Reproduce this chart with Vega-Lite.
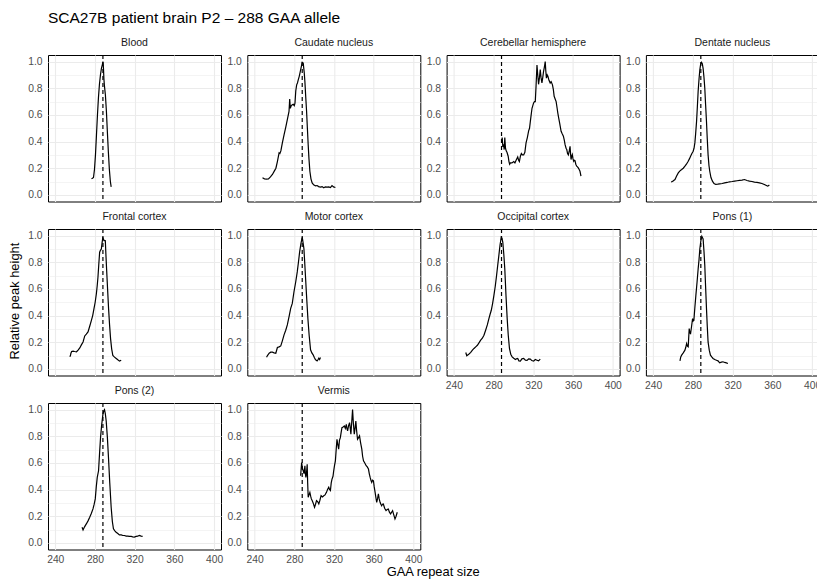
{
  "$schema": "https://vega.github.io/schema/vega-lite/v6.json",
  "padding": {"left": 9, "top": 10, "right": 0, "bottom": 0},
  "config": {
    "font": "Liberation Sans",
    "view": {"stroke": "black", "strokeWidth": 1},
    "axis": {"domain": false, "ticks": false, "labelFont": "Liberation Sans", "labelFontSize": 10.3, "labelColor": "#4D4D4D", "gridColor": "#EBEBEB", "title": null, "labelOverlap": false, "labelFlush": false},
    "axisX": {"labelPadding": 4.5},
    "axisY": {"labelPadding": 6},
    "title": {"font": "Liberation Sans", "fontWeight": "normal", "fontSize": 10.5, "color": "#1A1A1A", "offset": 6, "baseline": "alphabetic", "anchor": "middle"},
    "line": {"color": "black", "strokeWidth": 1.2},
    "rule": {"color": "black", "strokeWidth": 1.2, "strokeDash": [4, 3]}
  },
  "title": {"text": "SCA27B patient brain P2 – 288 GAA allele", "anchor": "start", "fontSize": 15.5, "color": "black", "frame": "group", "offset": 11},
  "datasets": {
    "peaks": [
      {"tissue":"Blood","size":276.5,"height":0.12},{"tissue":"Blood","size":277.5,"height":0.125},{"tissue":"Blood","size":278.5,"height":0.13},{"tissue":"Blood","size":279.5,"height":0.19},{"tissue":"Blood","size":280.5,"height":0.3},{"tissue":"Blood","size":281.5,"height":0.45},{"tissue":"Blood","size":282.5,"height":0.6},{"tissue":"Blood","size":283.5,"height":0.73},{"tissue":"Blood","size":284.5,"height":0.83},{"tissue":"Blood","size":285.5,"height":0.9},{"tissue":"Blood","size":286.5,"height":0.95},{"tissue":"Blood","size":287.5,"height":0.98},{"tissue":"Blood","size":288,"height":1.0},{"tissue":"Blood","size":288.5,"height":0.96},{"tissue":"Blood","size":289,"height":0.87},{"tissue":"Blood","size":289.5,"height":0.82},{"tissue":"Blood","size":290.5,"height":0.75},{"tissue":"Blood","size":291.5,"height":0.63},{"tissue":"Blood","size":292.5,"height":0.47},{"tissue":"Blood","size":293.5,"height":0.32},{"tissue":"Blood","size":294.5,"height":0.19},{"tissue":"Blood","size":295.5,"height":0.1},{"tissue":"Blood","size":296.3,"height":0.06},

      {"tissue":"Caudate nucleus","size":248,"height":0.128},{"tissue":"Caudate nucleus","size":250,"height":0.12},{"tissue":"Caudate nucleus","size":252,"height":0.118},{"tissue":"Caudate nucleus","size":254,"height":0.12},{"tissue":"Caudate nucleus","size":256,"height":0.135},{"tissue":"Caudate nucleus","size":258,"height":0.153},{"tissue":"Caudate nucleus","size":260,"height":0.18},{"tissue":"Caudate nucleus","size":261.5,"height":0.2},{"tissue":"Caudate nucleus","size":263,"height":0.25},{"tissue":"Caudate nucleus","size":264.7,"height":0.315},{"tissue":"Caudate nucleus","size":265.5,"height":0.31},{"tissue":"Caudate nucleus","size":266.5,"height":0.33},{"tissue":"Caudate nucleus","size":268,"height":0.39},{"tissue":"Caudate nucleus","size":269.7,"height":0.45},{"tissue":"Caudate nucleus","size":271.5,"height":0.51},{"tissue":"Caudate nucleus","size":273,"height":0.564},{"tissue":"Caudate nucleus","size":274.7,"height":0.626},{"tissue":"Caudate nucleus","size":275.4,"height":0.72},{"tissue":"Caudate nucleus","size":276,"height":0.65},{"tissue":"Caudate nucleus","size":277,"height":0.67},{"tissue":"Caudate nucleus","size":278,"height":0.676},{"tissue":"Caudate nucleus","size":279,"height":0.68},{"tissue":"Caudate nucleus","size":280,"height":0.67},{"tissue":"Caudate nucleus","size":280.7,"height":0.688},{"tissue":"Caudate nucleus","size":281.5,"height":0.78},{"tissue":"Caudate nucleus","size":282.4,"height":0.826},{"tissue":"Caudate nucleus","size":283.2,"height":0.84},{"tissue":"Caudate nucleus","size":284,"height":0.863},{"tissue":"Caudate nucleus","size":285,"height":0.89},{"tissue":"Caudate nucleus","size":286.4,"height":0.938},{"tissue":"Caudate nucleus","size":287.3,"height":0.97},{"tissue":"Caudate nucleus","size":288,"height":0.995},{"tissue":"Caudate nucleus","size":289,"height":0.99},{"tissue":"Caudate nucleus","size":290,"height":0.92},{"tissue":"Caudate nucleus","size":290.7,"height":0.85},{"tissue":"Caudate nucleus","size":291.5,"height":0.74},{"tissue":"Caudate nucleus","size":292.4,"height":0.626},{"tissue":"Caudate nucleus","size":293.2,"height":0.5},{"tissue":"Caudate nucleus","size":294,"height":0.377},{"tissue":"Caudate nucleus","size":294.8,"height":0.27},{"tissue":"Caudate nucleus","size":295.7,"height":0.177},{"tissue":"Caudate nucleus","size":296.8,"height":0.12},{"tissue":"Caudate nucleus","size":298,"height":0.09},{"tissue":"Caudate nucleus","size":299.5,"height":0.075},{"tissue":"Caudate nucleus","size":301.4,"height":0.068},{"tissue":"Caudate nucleus","size":303,"height":0.07},{"tissue":"Caudate nucleus","size":304.5,"height":0.062},{"tissue":"Caudate nucleus","size":306.4,"height":0.058},{"tissue":"Caudate nucleus","size":308,"height":0.062},{"tissue":"Caudate nucleus","size":309.7,"height":0.053},{"tissue":"Caudate nucleus","size":311.3,"height":0.06},{"tissue":"Caudate nucleus","size":313,"height":0.058},{"tissue":"Caudate nucleus","size":314.7,"height":0.06},{"tissue":"Caudate nucleus","size":316.4,"height":0.055},{"tissue":"Caudate nucleus","size":318,"height":0.07},{"tissue":"Caudate nucleus","size":319.5,"height":0.06},{"tissue":"Caudate nucleus","size":321.4,"height":0.055},

      {"tissue":"Cerebellar hemisphere","size":288,"height":0.39},{"tissue":"Cerebellar hemisphere","size":288.7,"height":0.43},{"tissue":"Cerebellar hemisphere","size":289.3,"height":0.36},{"tissue":"Cerebellar hemisphere","size":290,"height":0.38},{"tissue":"Cerebellar hemisphere","size":290.7,"height":0.34},{"tissue":"Cerebellar hemisphere","size":291.3,"height":0.43},{"tissue":"Cerebellar hemisphere","size":292,"height":0.35},{"tissue":"Cerebellar hemisphere","size":292.7,"height":0.33},{"tissue":"Cerebellar hemisphere","size":293.5,"height":0.32},{"tissue":"Cerebellar hemisphere","size":294.7,"height":0.29},{"tissue":"Cerebellar hemisphere","size":295.5,"height":0.25},{"tissue":"Cerebellar hemisphere","size":296.2,"height":0.23},{"tissue":"Cerebellar hemisphere","size":297,"height":0.24},{"tissue":"Cerebellar hemisphere","size":298.5,"height":0.24},{"tissue":"Cerebellar hemisphere","size":300.3,"height":0.25},{"tissue":"Cerebellar hemisphere","size":301.5,"height":0.24},{"tissue":"Cerebellar hemisphere","size":302.7,"height":0.26},{"tissue":"Cerebellar hemisphere","size":304.3,"height":0.285},{"tissue":"Cerebellar hemisphere","size":305.2,"height":0.26},{"tissue":"Cerebellar hemisphere","size":306,"height":0.25},{"tissue":"Cerebellar hemisphere","size":307,"height":0.29},{"tissue":"Cerebellar hemisphere","size":308,"height":0.31},{"tissue":"Cerebellar hemisphere","size":309,"height":0.3},{"tissue":"Cerebellar hemisphere","size":310.3,"height":0.3},{"tissue":"Cerebellar hemisphere","size":311.5,"height":0.32},{"tissue":"Cerebellar hemisphere","size":312.7,"height":0.39},{"tissue":"Cerebellar hemisphere","size":314,"height":0.43},{"tissue":"Cerebellar hemisphere","size":315.3,"height":0.48},{"tissue":"Cerebellar hemisphere","size":316.2,"height":0.5},{"tissue":"Cerebellar hemisphere","size":317,"height":0.55},{"tissue":"Cerebellar hemisphere","size":318,"height":0.61},{"tissue":"Cerebellar hemisphere","size":318.7,"height":0.65},{"tissue":"Cerebellar hemisphere","size":319.5,"height":0.67},{"tissue":"Cerebellar hemisphere","size":320.3,"height":0.69},{"tissue":"Cerebellar hemisphere","size":321.2,"height":0.7},{"tissue":"Cerebellar hemisphere","size":322,"height":0.7},{"tissue":"Cerebellar hemisphere","size":322.8,"height":0.82},{"tissue":"Cerebellar hemisphere","size":323.7,"height":0.975},{"tissue":"Cerebellar hemisphere","size":324.5,"height":0.9},{"tissue":"Cerebellar hemisphere","size":325.3,"height":0.83},{"tissue":"Cerebellar hemisphere","size":326.2,"height":0.88},{"tissue":"Cerebellar hemisphere","size":327,"height":0.94},{"tissue":"Cerebellar hemisphere","size":327.8,"height":0.88},{"tissue":"Cerebellar hemisphere","size":328.7,"height":0.84},{"tissue":"Cerebellar hemisphere","size":329.5,"height":0.88},{"tissue":"Cerebellar hemisphere","size":330.3,"height":0.925},{"tissue":"Cerebellar hemisphere","size":331.2,"height":0.96},{"tissue":"Cerebellar hemisphere","size":332,"height":1.0},{"tissue":"Cerebellar hemisphere","size":332.6,"height":0.93},{"tissue":"Cerebellar hemisphere","size":333.2,"height":0.876},{"tissue":"Cerebellar hemisphere","size":334,"height":0.9},{"tissue":"Cerebellar hemisphere","size":334.7,"height":0.89},{"tissue":"Cerebellar hemisphere","size":335.8,"height":0.86},{"tissue":"Cerebellar hemisphere","size":337,"height":0.84},{"tissue":"Cerebellar hemisphere","size":338,"height":0.85},{"tissue":"Cerebellar hemisphere","size":339.3,"height":0.826},{"tissue":"Cerebellar hemisphere","size":340.2,"height":0.79},{"tissue":"Cerebellar hemisphere","size":341,"height":0.74},{"tissue":"Cerebellar hemisphere","size":342,"height":0.72},{"tissue":"Cerebellar hemisphere","size":343,"height":0.7},{"tissue":"Cerebellar hemisphere","size":344,"height":0.65},{"tissue":"Cerebellar hemisphere","size":344.7,"height":0.614},{"tissue":"Cerebellar hemisphere","size":345.5,"height":0.58},{"tissue":"Cerebellar hemisphere","size":346.5,"height":0.54},{"tissue":"Cerebellar hemisphere","size":348,"height":0.477},{"tissue":"Cerebellar hemisphere","size":349,"height":0.46},{"tissue":"Cerebellar hemisphere","size":350.3,"height":0.44},{"tissue":"Cerebellar hemisphere","size":351.2,"height":0.41},{"tissue":"Cerebellar hemisphere","size":352,"height":0.377},{"tissue":"Cerebellar hemisphere","size":353,"height":0.35},{"tissue":"Cerebellar hemisphere","size":353.7,"height":0.34},{"tissue":"Cerebellar hemisphere","size":354.5,"height":0.31},{"tissue":"Cerebellar hemisphere","size":355.3,"height":0.3},{"tissue":"Cerebellar hemisphere","size":356.2,"height":0.33},{"tissue":"Cerebellar hemisphere","size":357,"height":0.364},{"tissue":"Cerebellar hemisphere","size":357.6,"height":0.3},{"tissue":"Cerebellar hemisphere","size":358,"height":0.265},{"tissue":"Cerebellar hemisphere","size":358.7,"height":0.29},{"tissue":"Cerebellar hemisphere","size":359.3,"height":0.302},{"tissue":"Cerebellar hemisphere","size":360,"height":0.27},{"tissue":"Cerebellar hemisphere","size":360.7,"height":0.252},{"tissue":"Cerebellar hemisphere","size":361.3,"height":0.26},{"tissue":"Cerebellar hemisphere","size":362,"height":0.257},{"tissue":"Cerebellar hemisphere","size":362.8,"height":0.23},{"tissue":"Cerebellar hemisphere","size":363.7,"height":0.215},{"tissue":"Cerebellar hemisphere","size":364.5,"height":0.21},{"tissue":"Cerebellar hemisphere","size":365.3,"height":0.202},{"tissue":"Cerebellar hemisphere","size":366.2,"height":0.19},{"tissue":"Cerebellar hemisphere","size":367,"height":0.177},{"tissue":"Cerebellar hemisphere","size":367.5,"height":0.16},{"tissue":"Cerebellar hemisphere","size":368,"height":0.14},

      {"tissue":"Dentate nucleus","size":258,"height":0.098},{"tissue":"Dentate nucleus","size":259.5,"height":0.1},{"tissue":"Dentate nucleus","size":261,"height":0.11},{"tissue":"Dentate nucleus","size":262,"height":0.115},{"tissue":"Dentate nucleus","size":263.5,"height":0.14},{"tissue":"Dentate nucleus","size":265.3,"height":0.165},{"tissue":"Dentate nucleus","size":267,"height":0.18},{"tissue":"Dentate nucleus","size":268.7,"height":0.19},{"tissue":"Dentate nucleus","size":270.3,"height":0.2},{"tissue":"Dentate nucleus","size":272,"height":0.215},{"tissue":"Dentate nucleus","size":273.5,"height":0.23},{"tissue":"Dentate nucleus","size":275.3,"height":0.252},{"tissue":"Dentate nucleus","size":276.5,"height":0.27},{"tissue":"Dentate nucleus","size":277.7,"height":0.29},{"tissue":"Dentate nucleus","size":279,"height":0.31},{"tissue":"Dentate nucleus","size":280.3,"height":0.327},{"tissue":"Dentate nucleus","size":281.2,"height":0.35},{"tissue":"Dentate nucleus","size":282,"height":0.39},{"tissue":"Dentate nucleus","size":282.8,"height":0.46},{"tissue":"Dentate nucleus","size":283.7,"height":0.55},{"tissue":"Dentate nucleus","size":284.5,"height":0.66},{"tissue":"Dentate nucleus","size":285.3,"height":0.776},{"tissue":"Dentate nucleus","size":286.2,"height":0.87},{"tissue":"Dentate nucleus","size":287,"height":0.938},{"tissue":"Dentate nucleus","size":287.8,"height":0.98},{"tissue":"Dentate nucleus","size":288.7,"height":0.995},{"tissue":"Dentate nucleus","size":289.5,"height":0.985},{"tissue":"Dentate nucleus","size":290.3,"height":0.95},{"tissue":"Dentate nucleus","size":291.2,"height":0.88},{"tissue":"Dentate nucleus","size":292,"height":0.8},{"tissue":"Dentate nucleus","size":292.8,"height":0.68},{"tissue":"Dentate nucleus","size":293.7,"height":0.55},{"tissue":"Dentate nucleus","size":294.5,"height":0.42},{"tissue":"Dentate nucleus","size":295.3,"height":0.302},{"tissue":"Dentate nucleus","size":296.2,"height":0.22},{"tissue":"Dentate nucleus","size":297,"height":0.177},{"tissue":"Dentate nucleus","size":298.2,"height":0.13},{"tissue":"Dentate nucleus","size":299.7,"height":0.103},{"tissue":"Dentate nucleus","size":301.3,"height":0.085},{"tissue":"Dentate nucleus","size":303,"height":0.078},{"tissue":"Dentate nucleus","size":305,"height":0.08},{"tissue":"Dentate nucleus","size":307,"height":0.083},{"tissue":"Dentate nucleus","size":309.5,"height":0.085},{"tissue":"Dentate nucleus","size":312,"height":0.09},{"tissue":"Dentate nucleus","size":314.5,"height":0.093},{"tissue":"Dentate nucleus","size":317,"height":0.098},{"tissue":"Dentate nucleus","size":319.5,"height":0.1},{"tissue":"Dentate nucleus","size":322,"height":0.103},{"tissue":"Dentate nucleus","size":324.5,"height":0.106},{"tissue":"Dentate nucleus","size":327,"height":0.108},{"tissue":"Dentate nucleus","size":329.5,"height":0.11},{"tissue":"Dentate nucleus","size":332,"height":0.115},{"tissue":"Dentate nucleus","size":334.5,"height":0.108},{"tissue":"Dentate nucleus","size":337,"height":0.103},{"tissue":"Dentate nucleus","size":339.5,"height":0.1},{"tissue":"Dentate nucleus","size":342,"height":0.095},{"tissue":"Dentate nucleus","size":344.5,"height":0.093},{"tissue":"Dentate nucleus","size":347,"height":0.09},{"tissue":"Dentate nucleus","size":349.5,"height":0.085},{"tissue":"Dentate nucleus","size":352,"height":0.078},{"tissue":"Dentate nucleus","size":354,"height":0.07},{"tissue":"Dentate nucleus","size":355.3,"height":0.065},{"tissue":"Dentate nucleus","size":357,"height":0.073},

      {"tissue":"Frontal cortex","size":254.7,"height":0.09},{"tissue":"Frontal cortex","size":255.3,"height":0.1},{"tissue":"Frontal cortex","size":255.7,"height":0.115},{"tissue":"Frontal cortex","size":256.5,"height":0.13},{"tissue":"Frontal cortex","size":258,"height":0.133},{"tissue":"Frontal cortex","size":259.5,"height":0.13},{"tissue":"Frontal cortex","size":261.4,"height":0.128},{"tissue":"Frontal cortex","size":263,"height":0.14},{"tissue":"Frontal cortex","size":264.7,"height":0.157},{"tissue":"Frontal cortex","size":266.3,"height":0.18},{"tissue":"Frontal cortex","size":268,"height":0.202},{"tissue":"Frontal cortex","size":269.7,"height":0.247},{"tissue":"Frontal cortex","size":271.3,"height":0.26},{"tissue":"Frontal cortex","size":273,"height":0.277},{"tissue":"Frontal cortex","size":274.7,"height":0.32},{"tissue":"Frontal cortex","size":276.4,"height":0.364},{"tissue":"Frontal cortex","size":277.7,"height":0.4},{"tissue":"Frontal cortex","size":279,"height":0.452},{"tissue":"Frontal cortex","size":280.2,"height":0.5},{"tissue":"Frontal cortex","size":281.4,"height":0.564},{"tissue":"Frontal cortex","size":282.2,"height":0.62},{"tissue":"Frontal cortex","size":283,"height":0.688},{"tissue":"Frontal cortex","size":283.8,"height":0.78},{"tissue":"Frontal cortex","size":284.7,"height":0.876},{"tissue":"Frontal cortex","size":285.5,"height":0.89},{"tissue":"Frontal cortex","size":286.4,"height":0.9},{"tissue":"Frontal cortex","size":287.2,"height":0.95},{"tissue":"Frontal cortex","size":288,"height":0.99},{"tissue":"Frontal cortex","size":288.5,"height":0.97},{"tissue":"Frontal cortex","size":289,"height":0.963},{"tissue":"Frontal cortex","size":289.7,"height":0.965},{"tissue":"Frontal cortex","size":290.4,"height":0.963},{"tissue":"Frontal cortex","size":291,"height":0.86},{"tissue":"Frontal cortex","size":291.7,"height":0.75},{"tissue":"Frontal cortex","size":292.7,"height":0.6},{"tissue":"Frontal cortex","size":293.7,"height":0.452},{"tissue":"Frontal cortex","size":294.7,"height":0.33},{"tissue":"Frontal cortex","size":295.7,"height":0.227},{"tissue":"Frontal cortex","size":296.8,"height":0.15},{"tissue":"Frontal cortex","size":298,"height":0.1},{"tissue":"Frontal cortex","size":299.7,"height":0.088},{"tissue":"Frontal cortex","size":301.4,"height":0.078},{"tissue":"Frontal cortex","size":303,"height":0.068},{"tissue":"Frontal cortex","size":304.7,"height":0.058},{"tissue":"Frontal cortex","size":306.4,"height":0.065},

      {"tissue":"Motor cortex","size":252.1,"height":0.087},{"tissue":"Motor cortex","size":253,"height":0.1},{"tissue":"Motor cortex","size":254.7,"height":0.117},{"tissue":"Motor cortex","size":256.3,"height":0.125},{"tissue":"Motor cortex","size":258,"height":0.125},{"tissue":"Motor cortex","size":259.7,"height":0.12},{"tissue":"Motor cortex","size":261.4,"height":0.117},{"tissue":"Motor cortex","size":263,"height":0.16},{"tissue":"Motor cortex","size":264.7,"height":0.165},{"tissue":"Motor cortex","size":266.4,"height":0.172},{"tissue":"Motor cortex","size":268,"height":0.21},{"tissue":"Motor cortex","size":269.7,"height":0.255},{"tissue":"Motor cortex","size":271.4,"height":0.29},{"tissue":"Motor cortex","size":273,"height":0.33},{"tissue":"Motor cortex","size":274.7,"height":0.39},{"tissue":"Motor cortex","size":276.4,"height":0.454},{"tissue":"Motor cortex","size":278,"height":0.491},{"tissue":"Motor cortex","size":279.7,"height":0.579},{"tissue":"Motor cortex","size":281.4,"height":0.65},{"tissue":"Motor cortex","size":283,"height":0.728},{"tissue":"Motor cortex","size":284.2,"height":0.8},{"tissue":"Motor cortex","size":285.4,"height":0.878},{"tissue":"Motor cortex","size":286.7,"height":0.94},{"tissue":"Motor cortex","size":288,"height":0.99},{"tissue":"Motor cortex","size":288.8,"height":0.95},{"tissue":"Motor cortex","size":289.7,"height":0.903},{"tissue":"Motor cortex","size":290.5,"height":0.8},{"tissue":"Motor cortex","size":291.4,"height":0.678},{"tissue":"Motor cortex","size":292.5,"height":0.53},{"tissue":"Motor cortex","size":293.7,"height":0.379},{"tissue":"Motor cortex","size":295,"height":0.25},{"tissue":"Motor cortex","size":296.4,"height":0.143},{"tissue":"Motor cortex","size":297.7,"height":0.12},{"tissue":"Motor cortex","size":299,"height":0.105},{"tissue":"Motor cortex","size":300.2,"height":0.085},{"tissue":"Motor cortex","size":301.4,"height":0.068},{"tissue":"Motor cortex","size":302.2,"height":0.065},{"tissue":"Motor cortex","size":303,"height":0.06},{"tissue":"Motor cortex","size":304,"height":0.07},{"tissue":"Motor cortex","size":304.7,"height":0.08},{"tissue":"Motor cortex","size":305.5,"height":0.07},{"tissue":"Motor cortex","size":306.4,"height":0.085},

      {"tissue":"Occipital cortex","size":252,"height":0.123},{"tissue":"Occipital cortex","size":253,"height":0.098},{"tissue":"Occipital cortex","size":255,"height":0.11},{"tissue":"Occipital cortex","size":257,"height":0.123},{"tissue":"Occipital cortex","size":258.7,"height":0.14},{"tissue":"Occipital cortex","size":260.3,"height":0.153},{"tissue":"Occipital cortex","size":262,"height":0.165},{"tissue":"Occipital cortex","size":263.7,"height":0.177},{"tissue":"Occipital cortex","size":265.3,"height":0.195},{"tissue":"Occipital cortex","size":267,"height":0.215},{"tissue":"Occipital cortex","size":268.7,"height":0.23},{"tissue":"Occipital cortex","size":270.3,"height":0.252},{"tissue":"Occipital cortex","size":272,"height":0.29},{"tissue":"Occipital cortex","size":273.7,"height":0.33},{"tissue":"Occipital cortex","size":275.3,"height":0.377},{"tissue":"Occipital cortex","size":276.5,"height":0.41},{"tissue":"Occipital cortex","size":277.7,"height":0.44},{"tissue":"Occipital cortex","size":279,"height":0.49},{"tissue":"Occipital cortex","size":280.3,"height":0.55},{"tissue":"Occipital cortex","size":281.7,"height":0.62},{"tissue":"Occipital cortex","size":283,"height":0.7},{"tissue":"Occipital cortex","size":284.2,"height":0.78},{"tissue":"Occipital cortex","size":285.3,"height":0.85},{"tissue":"Occipital cortex","size":286.5,"height":0.93},{"tissue":"Occipital cortex","size":287.7,"height":0.988},{"tissue":"Occipital cortex","size":288.5,"height":0.98},{"tissue":"Occipital cortex","size":289.3,"height":0.95},{"tissue":"Occipital cortex","size":290.3,"height":0.86},{"tissue":"Occipital cortex","size":291.3,"height":0.75},{"tissue":"Occipital cortex","size":292.5,"height":0.55},{"tissue":"Occipital cortex","size":293.7,"height":0.377},{"tissue":"Occipital cortex","size":294.8,"height":0.25},{"tissue":"Occipital cortex","size":296,"height":0.153},{"tissue":"Occipital cortex","size":297.3,"height":0.11},{"tissue":"Occipital cortex","size":298.7,"height":0.09},{"tissue":"Occipital cortex","size":300.3,"height":0.08},{"tissue":"Occipital cortex","size":302,"height":0.07},{"tissue":"Occipital cortex","size":303,"height":0.075},{"tissue":"Occipital cortex","size":304.3,"height":0.078},{"tissue":"Occipital cortex","size":305.5,"height":0.06},{"tissue":"Occipital cortex","size":307,"height":0.058},{"tissue":"Occipital cortex","size":308.5,"height":0.075},{"tissue":"Occipital cortex","size":310.3,"height":0.078},{"tissue":"Occipital cortex","size":312,"height":0.065},{"tissue":"Occipital cortex","size":313.7,"height":0.063},{"tissue":"Occipital cortex","size":315.3,"height":0.075},{"tissue":"Occipital cortex","size":317,"height":0.073},{"tissue":"Occipital cortex","size":318.5,"height":0.062},{"tissue":"Occipital cortex","size":320.3,"height":0.058},{"tissue":"Occipital cortex","size":322,"height":0.07},{"tissue":"Occipital cortex","size":323.7,"height":0.065},{"tissue":"Occipital cortex","size":325.3,"height":0.06},{"tissue":"Occipital cortex","size":327,"height":0.073},

      {"tissue":"Pons (1)","size":267,"height":0.06},{"tissue":"Pons (1)","size":267.8,"height":0.09},{"tissue":"Pons (1)","size":268.7,"height":0.103},{"tissue":"Pons (1)","size":270.3,"height":0.12},{"tissue":"Pons (1)","size":272,"height":0.14},{"tissue":"Pons (1)","size":272.8,"height":0.16},{"tissue":"Pons (1)","size":273.7,"height":0.19},{"tissue":"Pons (1)","size":274.5,"height":0.17},{"tissue":"Pons (1)","size":275.3,"height":0.165},{"tissue":"Pons (1)","size":276.3,"height":0.302},{"tissue":"Pons (1)","size":277,"height":0.27},{"tissue":"Pons (1)","size":277.7,"height":0.265},{"tissue":"Pons (1)","size":278.7,"height":0.32},{"tissue":"Pons (1)","size":279.7,"height":0.377},{"tissue":"Pons (1)","size":280.3,"height":0.36},{"tissue":"Pons (1)","size":281,"height":0.364},{"tissue":"Pons (1)","size":282,"height":0.46},{"tissue":"Pons (1)","size":283,"height":0.55},{"tissue":"Pons (1)","size":284.2,"height":0.65},{"tissue":"Pons (1)","size":285.3,"height":0.75},{"tissue":"Pons (1)","size":286.2,"height":0.82},{"tissue":"Pons (1)","size":287,"height":0.9},{"tissue":"Pons (1)","size":288,"height":0.96},{"tissue":"Pons (1)","size":289,"height":0.995},{"tissue":"Pons (1)","size":290.3,"height":0.975},{"tissue":"Pons (1)","size":291.2,"height":0.88},{"tissue":"Pons (1)","size":292,"height":0.776},{"tissue":"Pons (1)","size":292.8,"height":0.62},{"tissue":"Pons (1)","size":293.7,"height":0.452},{"tissue":"Pons (1)","size":294.5,"height":0.32},{"tissue":"Pons (1)","size":295.3,"height":0.202},{"tissue":"Pons (1)","size":296.5,"height":0.14},{"tissue":"Pons (1)","size":297.7,"height":0.103},{"tissue":"Pons (1)","size":299,"height":0.09},{"tissue":"Pons (1)","size":300.3,"height":0.078},{"tissue":"Pons (1)","size":302,"height":0.07},{"tissue":"Pons (1)","size":303.7,"height":0.065},{"tissue":"Pons (1)","size":305.3,"height":0.06},{"tissue":"Pons (1)","size":307,"height":0.045},{"tissue":"Pons (1)","size":308.7,"height":0.05},{"tissue":"Pons (1)","size":310.3,"height":0.053},{"tissue":"Pons (1)","size":312,"height":0.048},{"tissue":"Pons (1)","size":313.7,"height":0.045},{"tissue":"Pons (1)","size":315.3,"height":0.04},

      {"tissue":"Pons (2)","size":267,"height":0.117},{"tissue":"Pons (2)","size":268,"height":0.097},{"tissue":"Pons (2)","size":269.5,"height":0.12},{"tissue":"Pons (2)","size":271.3,"height":0.142},{"tissue":"Pons (2)","size":273,"height":0.165},{"tissue":"Pons (2)","size":274.7,"height":0.192},{"tissue":"Pons (2)","size":276.3,"height":0.22},{"tissue":"Pons (2)","size":278,"height":0.255},{"tissue":"Pons (2)","size":279.2,"height":0.29},{"tissue":"Pons (2)","size":280.3,"height":0.33},{"tissue":"Pons (2)","size":281.3,"height":0.42},{"tissue":"Pons (2)","size":282.3,"height":0.491},{"tissue":"Pons (2)","size":283.6,"height":0.541},{"tissue":"Pons (2)","size":284.6,"height":0.67},{"tissue":"Pons (2)","size":285.6,"height":0.79},{"tissue":"Pons (2)","size":286.8,"height":0.89},{"tissue":"Pons (2)","size":288,"height":0.965},{"tissue":"Pons (2)","size":288.8,"height":0.99},{"tissue":"Pons (2)","size":289.6,"height":1.0},{"tissue":"Pons (2)","size":290.4,"height":0.97},{"tissue":"Pons (2)","size":291.3,"height":0.915},{"tissue":"Pons (2)","size":292.5,"height":0.79},{"tissue":"Pons (2)","size":293.6,"height":0.641},{"tissue":"Pons (2)","size":294.9,"height":0.45},{"tissue":"Pons (2)","size":296.3,"height":0.267},{"tissue":"Pons (2)","size":297.5,"height":0.16},{"tissue":"Pons (2)","size":298.6,"height":0.105},{"tissue":"Pons (2)","size":300,"height":0.09},{"tissue":"Pons (2)","size":301.3,"height":0.08},{"tissue":"Pons (2)","size":303,"height":0.07},{"tissue":"Pons (2)","size":304.6,"height":0.06},{"tissue":"Pons (2)","size":306.5,"height":0.06},{"tissue":"Pons (2)","size":308,"height":0.055},{"tissue":"Pons (2)","size":309.6,"height":0.055},{"tissue":"Pons (2)","size":311.5,"height":0.05},{"tissue":"Pons (2)","size":313,"height":0.05},{"tissue":"Pons (2)","size":314.6,"height":0.048},{"tissue":"Pons (2)","size":316.5,"height":0.048},{"tissue":"Pons (2)","size":318,"height":0.045},{"tissue":"Pons (2)","size":319.6,"height":0.043},{"tissue":"Pons (2)","size":321.5,"height":0.048},{"tissue":"Pons (2)","size":323,"height":0.05},{"tissue":"Pons (2)","size":324.6,"height":0.055},{"tissue":"Pons (2)","size":326.5,"height":0.05},{"tissue":"Pons (2)","size":328,"height":0.048},

      {"tissue":"Vermis","size":286.4,"height":0.504},{"tissue":"Vermis","size":287.4,"height":0.603},{"tissue":"Vermis","size":288.2,"height":0.56},{"tissue":"Vermis","size":289,"height":0.541},{"tissue":"Vermis","size":289.8,"height":0.52},{"tissue":"Vermis","size":290.7,"height":0.579},{"tissue":"Vermis","size":291.2,"height":0.52},{"tissue":"Vermis","size":291.7,"height":0.491},{"tissue":"Vermis","size":292.3,"height":0.52},{"tissue":"Vermis","size":293,"height":0.59},{"tissue":"Vermis","size":293.5,"height":0.45},{"tissue":"Vermis","size":294,"height":0.342},{"tissue":"Vermis","size":294.8,"height":0.36},{"tissue":"Vermis","size":295.7,"height":0.379},{"tissue":"Vermis","size":296.5,"height":0.35},{"tissue":"Vermis","size":297.2,"height":0.33},{"tissue":"Vermis","size":298,"height":0.317},{"tissue":"Vermis","size":299,"height":0.3},{"tissue":"Vermis","size":300.4,"height":0.267},{"tissue":"Vermis","size":301.4,"height":0.29},{"tissue":"Vermis","size":302.4,"height":0.317},{"tissue":"Vermis","size":303.5,"height":0.31},{"tissue":"Vermis","size":304.7,"height":0.292},{"tissue":"Vermis","size":305.8,"height":0.32},{"tissue":"Vermis","size":307,"height":0.354},{"tissue":"Vermis","size":308.4,"height":0.345},{"tissue":"Vermis","size":309.7,"height":0.354},{"tissue":"Vermis","size":311,"height":0.36},{"tissue":"Vermis","size":312.4,"height":0.379},{"tissue":"Vermis","size":313.5,"height":0.4},{"tissue":"Vermis","size":314.7,"height":0.417},{"tissue":"Vermis","size":315.5,"height":0.4},{"tissue":"Vermis","size":316.4,"height":0.392},{"tissue":"Vermis","size":317.2,"height":0.45},{"tissue":"Vermis","size":318,"height":0.479},{"tissue":"Vermis","size":319,"height":0.5},{"tissue":"Vermis","size":319.7,"height":0.541},{"tissue":"Vermis","size":320.5,"height":0.58},{"tissue":"Vermis","size":321.4,"height":0.616},{"tissue":"Vermis","size":322.2,"height":0.7},{"tissue":"Vermis","size":323,"height":0.778},{"tissue":"Vermis","size":323.8,"height":0.74},{"tissue":"Vermis","size":324.7,"height":0.703},{"tissue":"Vermis","size":325.5,"height":0.77},{"tissue":"Vermis","size":326.4,"height":0.79},{"tissue":"Vermis","size":327.2,"height":0.83},{"tissue":"Vermis","size":328,"height":0.865},{"tissue":"Vermis","size":329.2,"height":0.87},{"tissue":"Vermis","size":330.4,"height":0.878},{"tissue":"Vermis","size":331.4,"height":0.86},{"tissue":"Vermis","size":332.4,"height":0.89},{"tissue":"Vermis","size":333,"height":0.86},{"tissue":"Vermis","size":333.7,"height":0.84},{"tissue":"Vermis","size":334.7,"height":0.88},{"tissue":"Vermis","size":335.7,"height":0.903},{"tissue":"Vermis","size":336.4,"height":0.86},{"tissue":"Vermis","size":337,"height":0.816},{"tissue":"Vermis","size":337.8,"height":0.9},{"tissue":"Vermis","size":338.7,"height":1.0},{"tissue":"Vermis","size":339.5,"height":0.9},{"tissue":"Vermis","size":340.4,"height":0.816},{"tissue":"Vermis","size":341.2,"height":0.86},{"tissue":"Vermis","size":342,"height":0.915},{"tissue":"Vermis","size":342.8,"height":0.84},{"tissue":"Vermis","size":343.7,"height":0.778},{"tissue":"Vermis","size":344.7,"height":0.79},{"tissue":"Vermis","size":345.7,"height":0.803},{"tissue":"Vermis","size":346.8,"height":0.75},{"tissue":"Vermis","size":348,"height":0.703},{"tissue":"Vermis","size":348.8,"height":0.65},{"tissue":"Vermis","size":349.7,"height":0.616},{"tissue":"Vermis","size":351,"height":0.6},{"tissue":"Vermis","size":352.4,"height":0.579},{"tissue":"Vermis","size":353.5,"height":0.57},{"tissue":"Vermis","size":354.7,"height":0.554},{"tissue":"Vermis","size":355.5,"height":0.52},{"tissue":"Vermis","size":356.4,"height":0.491},{"tissue":"Vermis","size":357.2,"height":0.47},{"tissue":"Vermis","size":358,"height":0.454},{"tissue":"Vermis","size":358.8,"height":0.47},{"tissue":"Vermis","size":359.7,"height":0.466},{"tissue":"Vermis","size":360.5,"height":0.42},{"tissue":"Vermis","size":361.4,"height":0.379},{"tissue":"Vermis","size":362.2,"height":0.34},{"tissue":"Vermis","size":363,"height":0.304},{"tissue":"Vermis","size":363.8,"height":0.33},{"tissue":"Vermis","size":364.7,"height":0.367},{"tissue":"Vermis","size":365.5,"height":0.33},{"tissue":"Vermis","size":366.4,"height":0.304},{"tissue":"Vermis","size":367.2,"height":0.29},{"tissue":"Vermis","size":368,"height":0.279},{"tissue":"Vermis","size":368.8,"height":0.29},{"tissue":"Vermis","size":369.7,"height":0.292},{"tissue":"Vermis","size":371,"height":0.26},{"tissue":"Vermis","size":372.4,"height":0.242},{"tissue":"Vermis","size":373.5,"height":0.25},{"tissue":"Vermis","size":374.7,"height":0.254},{"tissue":"Vermis","size":375.8,"height":0.23},{"tissue":"Vermis","size":377,"height":0.217},{"tissue":"Vermis","size":378,"height":0.23},{"tissue":"Vermis","size":379,"height":0.242},{"tissue":"Vermis","size":380.2,"height":0.21},{"tissue":"Vermis","size":381.4,"height":0.18},{"tissue":"Vermis","size":382.5,"height":0.2},{"tissue":"Vermis","size":383.7,"height":0.23}
    ]
  },
  "data": {"name": "peaks"},
  "vconcat": [
    {
      "title": {"text": "GAA repeat size", "orient": "bottom", "anchor": "middle", "fontSize": 12.9, "color": "black", "offset": 1, "baseline": "top", "dx": 18},
      "vconcat": [
        {
          "title": {"text": "Relative peak height", "orient": "left", "anchor": "middle", "fontSize": 12.9, "color": "black", "offset": 5, "baseline": "top"},
          "columns": 4,
          "spacing": {"column": 26.3, "row": 27},
          "bounds": "flush",
          "concat": [
            {"title": "Blood", "width": 173, "height": 146.5, "transform": [{"filter": {"field": "tissue", "equal": "Blood"}}],
             "layer": [
              {"mark": "line", "encoding": {
                "x": {"field": "size", "type": "quantitative", "scale": {"domain": [232.7, 406.9], "nice": false, "zero": false}, "axis": {"values": [240,260,280,300,320,340,360,380,400], "labels": false, "gridWidth": {"condition": {"test": "datum.value % 40 === 0", "value": 1.1}, "value": 0.55}}},
                "y": {"field": "height", "type": "quantitative", "scale": {"domain": [-0.05, 1.05], "nice": false, "zero": false}, "axis": {"values": [0,0.1,0.2,0.3,0.4,0.5,0.6,0.7,0.8,0.9,1.0], "format": ".1f", "labelExpr": "round(datum.value * 10) % 2 === 0 ? datum.label : ''", "gridWidth": {"condition": {"test": "round(datum.value * 10) % 2 === 0", "value": 1.1}, "value": 0.55}}}}},
              {"transform": [{"aggregate": [{"op": "count", "as": "n"}]}], "mark": "rule", "encoding": {"x": {"datum": 288, "type": "quantitative"}}}
             ]},
            {"title": "Caudate nucleus", "width": 173, "height": 146.5, "transform": [{"filter": {"field": "tissue", "equal": "Caudate nucleus"}}],
             "layer": [
              {"mark": "line", "encoding": {
                "x": {"field": "size", "type": "quantitative", "scale": {"domain": [232.7, 406.9], "nice": false, "zero": false}, "axis": {"values": [240,260,280,300,320,340,360,380,400], "labels": false, "gridWidth": {"condition": {"test": "datum.value % 40 === 0", "value": 1.1}, "value": 0.55}}},
                "y": {"field": "height", "type": "quantitative", "scale": {"domain": [-0.05, 1.05], "nice": false, "zero": false}, "axis": {"values": [0,0.1,0.2,0.3,0.4,0.5,0.6,0.7,0.8,0.9,1.0], "format": ".1f", "labelExpr": "round(datum.value * 10) % 2 === 0 ? datum.label : ''", "gridWidth": {"condition": {"test": "round(datum.value * 10) % 2 === 0", "value": 1.1}, "value": 0.55}}}}},
              {"transform": [{"aggregate": [{"op": "count", "as": "n"}]}], "mark": "rule", "encoding": {"x": {"datum": 288, "type": "quantitative"}}}
             ]},
            {"title": "Cerebellar hemisphere", "width": 173, "height": 146.5, "transform": [{"filter": {"field": "tissue", "equal": "Cerebellar hemisphere"}}],
             "layer": [
              {"mark": "line", "encoding": {
                "x": {"field": "size", "type": "quantitative", "scale": {"domain": [232.7, 406.9], "nice": false, "zero": false}, "axis": {"values": [240,260,280,300,320,340,360,380,400], "labels": false, "gridWidth": {"condition": {"test": "datum.value % 40 === 0", "value": 1.1}, "value": 0.55}}},
                "y": {"field": "height", "type": "quantitative", "scale": {"domain": [-0.05, 1.05], "nice": false, "zero": false}, "axis": {"values": [0,0.1,0.2,0.3,0.4,0.5,0.6,0.7,0.8,0.9,1.0], "format": ".1f", "labelExpr": "round(datum.value * 10) % 2 === 0 ? datum.label : ''", "gridWidth": {"condition": {"test": "round(datum.value * 10) % 2 === 0", "value": 1.1}, "value": 0.55}}}}},
              {"transform": [{"aggregate": [{"op": "count", "as": "n"}]}], "mark": "rule", "encoding": {"x": {"datum": 288, "type": "quantitative"}}}
             ]},
            {"title": "Dentate nucleus", "width": 173, "height": 146.5, "transform": [{"filter": {"field": "tissue", "equal": "Dentate nucleus"}}],
             "layer": [
              {"mark": "line", "encoding": {
                "x": {"field": "size", "type": "quantitative", "scale": {"domain": [232.7, 406.9], "nice": false, "zero": false}, "axis": {"values": [240,260,280,300,320,340,360,380,400], "labels": false, "gridWidth": {"condition": {"test": "datum.value % 40 === 0", "value": 1.1}, "value": 0.55}}},
                "y": {"field": "height", "type": "quantitative", "scale": {"domain": [-0.05, 1.05], "nice": false, "zero": false}, "axis": {"values": [0,0.1,0.2,0.3,0.4,0.5,0.6,0.7,0.8,0.9,1.0], "format": ".1f", "labelExpr": "round(datum.value * 10) % 2 === 0 ? datum.label : ''", "gridWidth": {"condition": {"test": "round(datum.value * 10) % 2 === 0", "value": 1.1}, "value": 0.55}}}}},
              {"transform": [{"aggregate": [{"op": "count", "as": "n"}]}], "mark": "rule", "encoding": {"x": {"datum": 288, "type": "quantitative"}}}
             ]},
            {"title": "Frontal cortex", "width": 173, "height": 146.5, "transform": [{"filter": {"field": "tissue", "equal": "Frontal cortex"}}],
             "layer": [
              {"mark": "line", "encoding": {
                "x": {"field": "size", "type": "quantitative", "scale": {"domain": [232.7, 406.9], "nice": false, "zero": false}, "axis": {"values": [240,260,280,300,320,340,360,380,400], "labels": false, "gridWidth": {"condition": {"test": "datum.value % 40 === 0", "value": 1.1}, "value": 0.55}}},
                "y": {"field": "height", "type": "quantitative", "scale": {"domain": [-0.05, 1.05], "nice": false, "zero": false}, "axis": {"values": [0,0.1,0.2,0.3,0.4,0.5,0.6,0.7,0.8,0.9,1.0], "format": ".1f", "labelExpr": "round(datum.value * 10) % 2 === 0 ? datum.label : ''", "gridWidth": {"condition": {"test": "round(datum.value * 10) % 2 === 0", "value": 1.1}, "value": 0.55}}}}},
              {"transform": [{"aggregate": [{"op": "count", "as": "n"}]}], "mark": "rule", "encoding": {"x": {"datum": 288, "type": "quantitative"}}}
             ]},
            {"title": "Motor cortex", "width": 173, "height": 146.5, "transform": [{"filter": {"field": "tissue", "equal": "Motor cortex"}}],
             "layer": [
              {"mark": "line", "encoding": {
                "x": {"field": "size", "type": "quantitative", "scale": {"domain": [232.7, 406.9], "nice": false, "zero": false}, "axis": {"values": [240,260,280,300,320,340,360,380,400], "labels": false, "gridWidth": {"condition": {"test": "datum.value % 40 === 0", "value": 1.1}, "value": 0.55}}},
                "y": {"field": "height", "type": "quantitative", "scale": {"domain": [-0.05, 1.05], "nice": false, "zero": false}, "axis": {"values": [0,0.1,0.2,0.3,0.4,0.5,0.6,0.7,0.8,0.9,1.0], "format": ".1f", "labelExpr": "round(datum.value * 10) % 2 === 0 ? datum.label : ''", "gridWidth": {"condition": {"test": "round(datum.value * 10) % 2 === 0", "value": 1.1}, "value": 0.55}}}}},
              {"transform": [{"aggregate": [{"op": "count", "as": "n"}]}], "mark": "rule", "encoding": {"x": {"datum": 288, "type": "quantitative"}}}
             ]},
            {"title": "Occipital cortex", "width": 173, "height": 146.5, "transform": [{"filter": {"field": "tissue", "equal": "Occipital cortex"}}],
             "layer": [
              {"mark": "line", "encoding": {
                "x": {"field": "size", "type": "quantitative", "scale": {"domain": [232.7, 406.9], "nice": false, "zero": false}, "axis": {"values": [240,260,280,300,320,340,360,380,400], "format": "d", "labelExpr": "datum.value % 40 === 0 ? datum.label : ''", "gridWidth": {"condition": {"test": "datum.value % 40 === 0", "value": 1.1}, "value": 0.55}}},
                "y": {"field": "height", "type": "quantitative", "scale": {"domain": [-0.05, 1.05], "nice": false, "zero": false}, "axis": {"values": [0,0.1,0.2,0.3,0.4,0.5,0.6,0.7,0.8,0.9,1.0], "format": ".1f", "labelExpr": "round(datum.value * 10) % 2 === 0 ? datum.label : ''", "gridWidth": {"condition": {"test": "round(datum.value * 10) % 2 === 0", "value": 1.1}, "value": 0.55}}}}},
              {"transform": [{"aggregate": [{"op": "count", "as": "n"}]}], "mark": "rule", "encoding": {"x": {"datum": 288, "type": "quantitative"}}}
             ]},
            {"title": "Pons (1)", "width": 173, "height": 146.5, "transform": [{"filter": {"field": "tissue", "equal": "Pons (1)"}}],
             "layer": [
              {"mark": "line", "encoding": {
                "x": {"field": "size", "type": "quantitative", "scale": {"domain": [232.7, 406.9], "nice": false, "zero": false}, "axis": {"values": [240,260,280,300,320,340,360,380,400], "format": "d", "labelExpr": "datum.value % 40 === 0 ? datum.label : ''", "gridWidth": {"condition": {"test": "datum.value % 40 === 0", "value": 1.1}, "value": 0.55}}},
                "y": {"field": "height", "type": "quantitative", "scale": {"domain": [-0.05, 1.05], "nice": false, "zero": false}, "axis": {"values": [0,0.1,0.2,0.3,0.4,0.5,0.6,0.7,0.8,0.9,1.0], "format": ".1f", "labelExpr": "round(datum.value * 10) % 2 === 0 ? datum.label : ''", "gridWidth": {"condition": {"test": "round(datum.value * 10) % 2 === 0", "value": 1.1}, "value": 0.55}}}}},
              {"transform": [{"aggregate": [{"op": "count", "as": "n"}]}], "mark": "rule", "encoding": {"x": {"datum": 288, "type": "quantitative"}}}
             ]},
            {"title": "Pons (2)", "width": 173, "height": 146.5, "transform": [{"filter": {"field": "tissue", "equal": "Pons (2)"}}],
             "layer": [
              {"mark": "line", "encoding": {
                "x": {"field": "size", "type": "quantitative", "scale": {"domain": [232.7, 406.9], "nice": false, "zero": false}, "axis": {"values": [240,260,280,300,320,340,360,380,400], "format": "d", "labelExpr": "datum.value % 40 === 0 ? datum.label : ''", "gridWidth": {"condition": {"test": "datum.value % 40 === 0", "value": 1.1}, "value": 0.55}}},
                "y": {"field": "height", "type": "quantitative", "scale": {"domain": [-0.05, 1.05], "nice": false, "zero": false}, "axis": {"values": [0,0.1,0.2,0.3,0.4,0.5,0.6,0.7,0.8,0.9,1.0], "format": ".1f", "labelExpr": "round(datum.value * 10) % 2 === 0 ? datum.label : ''", "gridWidth": {"condition": {"test": "round(datum.value * 10) % 2 === 0", "value": 1.1}, "value": 0.55}}}}},
              {"transform": [{"aggregate": [{"op": "count", "as": "n"}]}], "mark": "rule", "encoding": {"x": {"datum": 288, "type": "quantitative"}}}
             ]},
            {"title": "Vermis", "width": 173, "height": 146.5, "transform": [{"filter": {"field": "tissue", "equal": "Vermis"}}],
             "layer": [
              {"mark": "line", "encoding": {
                "x": {"field": "size", "type": "quantitative", "scale": {"domain": [232.7, 406.9], "nice": false, "zero": false}, "axis": {"values": [240,260,280,300,320,340,360,380,400], "format": "d", "labelExpr": "datum.value % 40 === 0 ? datum.label : ''", "gridWidth": {"condition": {"test": "datum.value % 40 === 0", "value": 1.1}, "value": 0.55}}},
                "y": {"field": "height", "type": "quantitative", "scale": {"domain": [-0.05, 1.05], "nice": false, "zero": false}, "axis": {"values": [0,0.1,0.2,0.3,0.4,0.5,0.6,0.7,0.8,0.9,1.0], "format": ".1f", "labelExpr": "round(datum.value * 10) % 2 === 0 ? datum.label : ''", "gridWidth": {"condition": {"test": "round(datum.value * 10) % 2 === 0", "value": 1.1}, "value": 0.55}}}}},
              {"transform": [{"aggregate": [{"op": "count", "as": "n"}]}], "mark": "rule", "encoding": {"x": {"datum": 288, "type": "quantitative"}}}
             ]}
          ]
        }
      ]
    }
  ]
}
